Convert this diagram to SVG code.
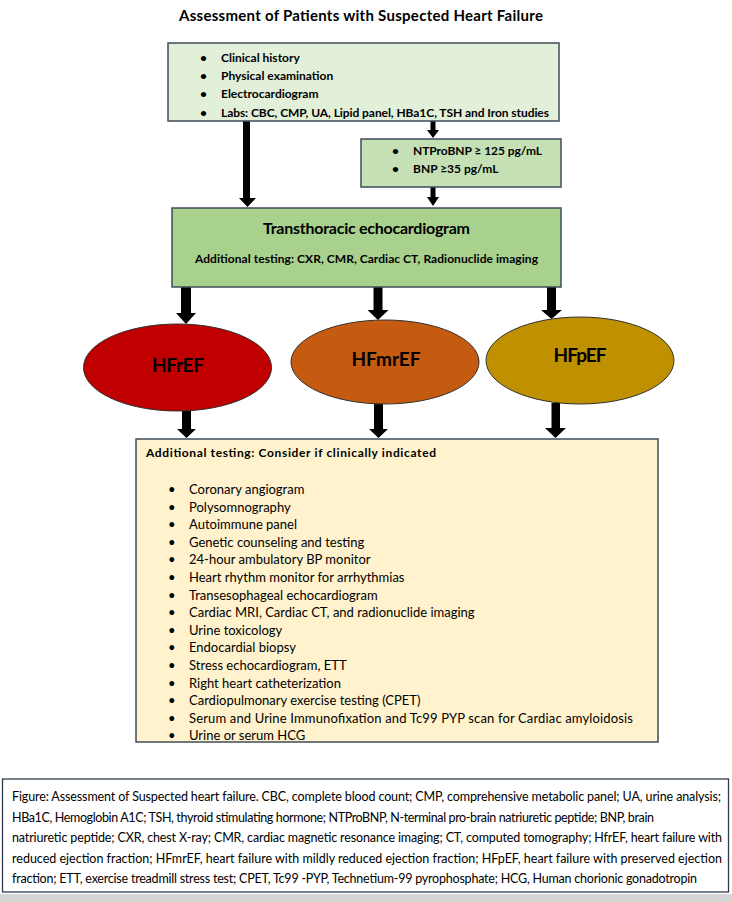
<svg xmlns="http://www.w3.org/2000/svg" width="732" height="902" viewBox="0 0 732 902">
<style>
text{font-family:Lato,"Open Sans","Liberation Sans",sans-serif;fill:#000}
.b{font-weight:bold}
.box{stroke:#3E4C5A;stroke-width:1.5}
.ell{stroke:#333;stroke-width:1}
.arr{fill:#000}
.cap{font-size:12.5px}
.li{font-size:13px}
.tb{font-size:12px;font-weight:bold}
.lbl{font-size:19px;font-weight:bold;text-anchor:middle}
</style>
<defs>
<clipPath id="c1"><rect x="168" y="43" width="391" height="76"/></clipPath>
<clipPath id="c2"><rect x="136" y="439" width="522" height="302"/></clipPath>
</defs>
<rect x="0" y="0" width="732" height="902" fill="#fff"/>
<text id="title" class="b" x="179" y="21" font-size="15" textLength="364">Assessment of Patients with Suspected Heart Failure</text>

<g id="connectors">
<path class="arr" d="M243,121 H250 V198 H256 L247.5,207 L239,198 H243 Z"/>
<path class="arr" d="M430.5,121 H435.5 V130 H439 L433,138 L427,130 H430.5 Z"/>
<path class="arr" d="M430.5,187 H435.5 V197 H439 L433,206 L427,197 H430.5 Z"/>
<path class="arr" d="M181,287 H191 V313 H196 L186,324 L176,313 H181 Z"/>
<path class="arr" d="M373.5,287 H382.5 V310 H388.5 L378,320 L367.5,310 H373.5 Z"/>
<path class="arr" d="M547,287 H556 V310 H562 L551.5,319 L541,310 H547 Z"/>
<path class="arr" d="M182,410 H191 V429 H196 L186.5,438 L177,429 H182 Z"/>
<path class="arr" d="M374,403 H383 V429 H388 L378.5,438 L369,429 H374 Z"/>
<path class="arr" d="M551.5,403 H560 V428 H566 L555.5,438 L545,428 H551.5 Z"/>
</g>

<g id="initial">
<rect class="box" x="168" y="43" width="391" height="78" fill="#E2EFD9"/>
<g clip-path="url(#c1)">
<text class="tb" x="200" y="62">•</text><text class="tb" x="221" y="62">Clinical history</text>
<text class="tb" x="200" y="80">•</text><text class="tb" x="221" y="80">Physical examination</text>
<text class="tb" x="200" y="98">•</text><text class="tb" x="221" y="98">Electrocardiogram</text>
<text class="tb" x="200" y="117">•</text><text class="tb" x="221" y="117" textLength="328">Labs: CBC, CMP, UA, Lipid panel, HBa1C, TSH and Iron studies</text>
</g>
</g>

<g id="natriuretic">
<rect class="box" x="361" y="139" width="200" height="48" fill="#C5E0B4"/>
<text class="tb" x="392" y="155">•</text><text class="tb" x="413" y="155" textLength="129">NTProBNP ≥ 125 pg/mL</text>
<text class="tb" x="392" y="172.5">•</text><text class="tb" x="413" y="172.5">BNP ≥35 pg/mL</text>
</g>

<g id="echo">
<rect class="box" x="172" y="208" width="389" height="79" fill="#A9D18E"/>
<text class="b" x="263" y="234" font-size="16" textLength="207">Transthoracic echocardiogram</text>
<text class="tb" x="195" y="263" textLength="343">Additional testing: CXR, CMR, Cardiac CT, Radionuclide imaging</text>
</g>

<g id="hfref">
<ellipse class="ell" cx="177.5" cy="367.5" rx="94" ry="43.5" fill="#C00000"/>
<text class="lbl" x="178" y="372" textLength="52">HFrEF</text>
</g>
<g id="hfmref">
<ellipse class="ell" cx="385" cy="362" rx="94" ry="42" fill="#C55A11"/>
<text class="lbl" x="386" y="366" textLength="69">HFmrEF</text>
</g>
<g id="hfpef">
<ellipse class="ell" cx="580" cy="360.5" rx="94" ry="43.5" fill="#BF9000"/>
<text class="lbl" x="580" y="362" textLength="53">HFpEF</text>
</g>

<g id="additional">
<rect class="box" x="136" y="439" width="522" height="303" fill="#FFF2CC"/>
<text class="tb" x="146" y="457" font-size="12.5" textLength="290">Additional testing: Consider if clinically indicated</text>
<g clip-path="url(#c2)">
<text class="li" x="168" y="494">•</text><text class="li" x="189" y="494">Coronary angiogram</text>
<text class="li" x="168" y="511.6">•</text><text class="li" x="189" y="511.6">Polysomnography</text>
<text class="li" x="168" y="529.2">•</text><text class="li" x="189" y="529.2">Autoimmune panel</text>
<text class="li" x="168" y="546.8">•</text><text class="li" x="189" y="546.8">Genetic counseling and testing</text>
<text class="li" x="168" y="564.4">•</text><text class="li" x="189" y="564.4">24-hour ambulatory BP monitor</text>
<text class="li" x="168" y="582">•</text><text class="li" x="189" y="582">Heart rhythm monitor for arrhythmias</text>
<text class="li" x="168" y="599.6">•</text><text class="li" x="189" y="599.6">Transesophageal echocardiogram</text>
<text class="li" x="168" y="617.2">•</text><text class="li" x="189" y="617.2">Cardiac MRI, Cardiac CT, and radionuclide imaging</text>
<text class="li" x="168" y="634.8">•</text><text class="li" x="189" y="634.8">Urine toxicology</text>
<text class="li" x="168" y="652.4">•</text><text class="li" x="189" y="652.4">Endocardial biopsy</text>
<text class="li" x="168" y="670">•</text><text class="li" x="189" y="670">Stress echocardiogram, ETT</text>
<text class="li" x="168" y="687.6">•</text><text class="li" x="189" y="687.6">Right heart catheterization</text>
<text class="li" x="168" y="705.2">•</text><text class="li" x="189" y="705.2">Cardiopulmonary exercise testing (CPET)</text>
<text class="li" x="168" y="722.8">•</text><text class="li" x="189" y="722.8" textLength="444">Serum and Urine Immunofixation and Tc99 PYP scan for Cardiac amyloidosis</text>
<text class="li" x="168" y="740.4">•</text><text class="li" x="189" y="740.4">Urine or serum HCG</text>
</g>
</g>

<g id="caption">
<rect x="2.5" y="779" width="726" height="113" fill="#fff" stroke="#2F3B4C" stroke-width="1.3"/>
<text class="cap" x="12" y="801" textLength="709">Figure: Assessment of Suspected heart failure. CBC, complete blood count; CMP, comprehensive metabolic panel; UA, urine analysis;</text>
<text class="cap" x="12" y="821.5" textLength="642">HBa1C, Hemoglobin A1C; TSH, thyroid stimulating hormone; NTProBNP, N-terminal pro-brain natriuretic peptide; BNP, brain</text>
<text class="cap" x="12" y="842" textLength="710">natriuretic peptide; CXR, chest X-ray; CMR, cardiac magnetic resonance imaging; CT, computed tomography; HfrEF, heart failure with</text>
<text class="cap" x="12" y="862.5" textLength="710">reduced ejection fraction; HFmrEF, heart failure with mildly reduced ejection fraction; HFpEF, heart failure with preserved ejection</text>
<text class="cap" x="12" y="883" textLength="685">fraction; ETT, exercise treadmill stress test; CPET, Tc99 -PYP, Technetium-99 pyrophosphate; HCG, Human chorionic gonadotropin</text>
</g>
<rect x="0" y="894" width="732" height="8" fill="#D6D6D6"/>
</svg>
